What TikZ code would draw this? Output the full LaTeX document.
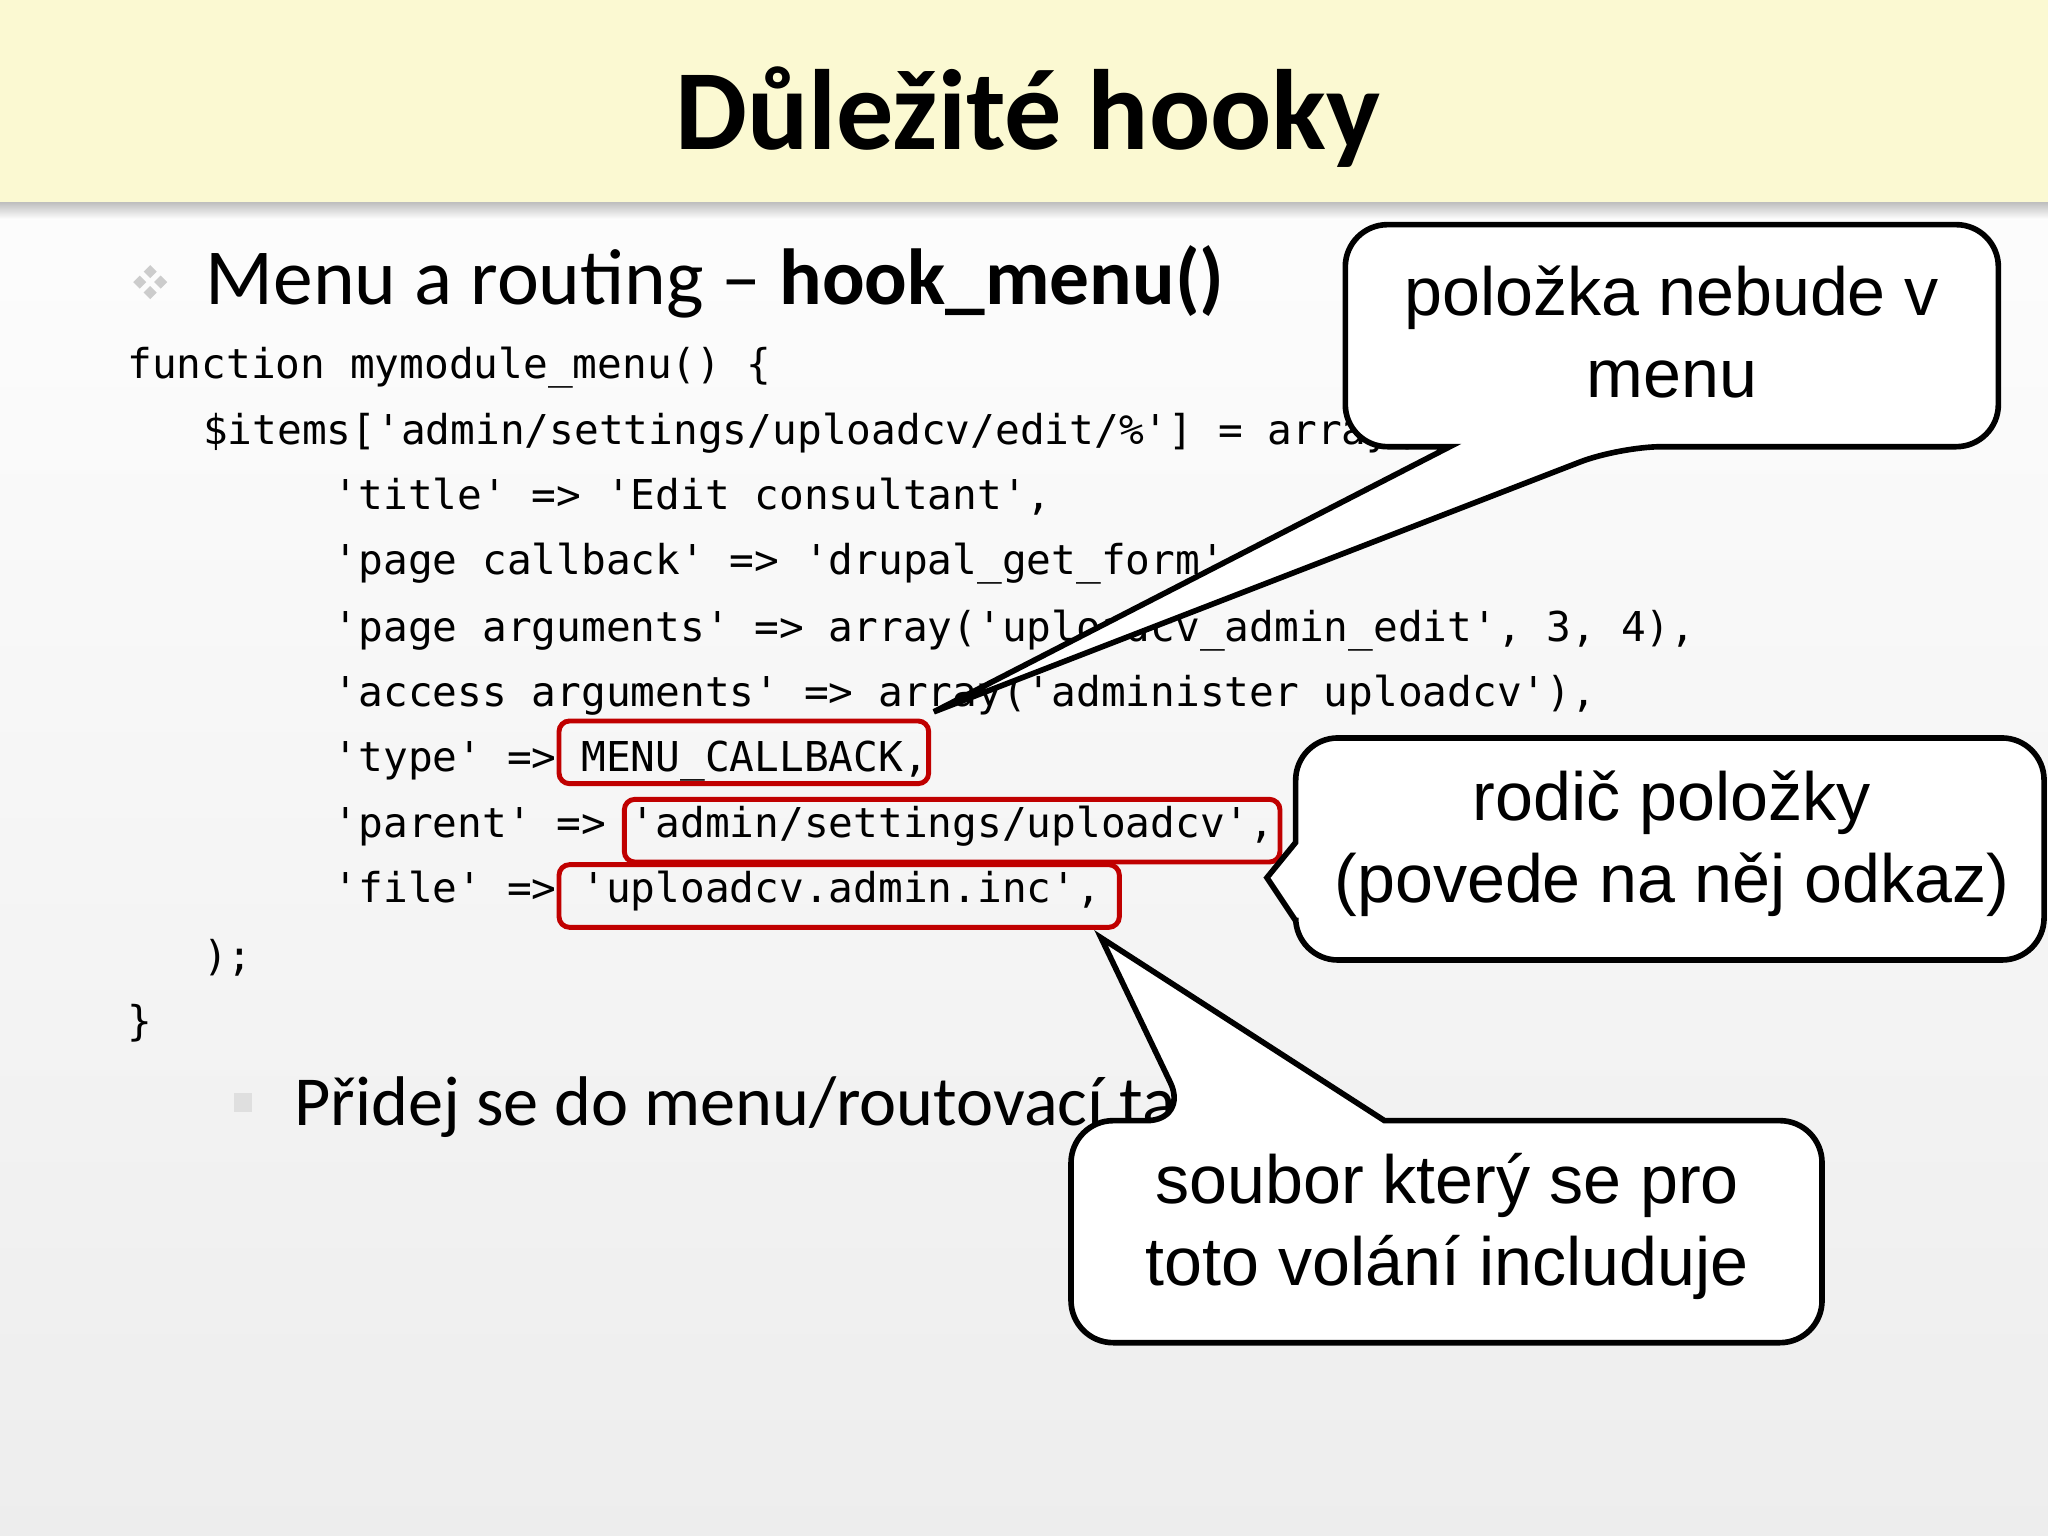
\documentclass[tikz,border=0pt]{standalone}
\usepackage{fontspec}
\setmainfont{Liberation Sans}
\setmonofont{DejaVu Sans Mono}
\newfontfamily\slidefont{Carlito}
\usetikzlibrary{positioning}
\definecolor{titlebg}{HTML}{FBF9D2}
\definecolor{boxred}{HTML}{C00000}
\begin{document}
\begin{tikzpicture}[
    x=0.01306cm, y=-0.01306cm,
    code/.style={anchor=base west, inner sep=0pt, font=\ttfamily\fontsize{11.7}{14}\selectfont},
    redbox/.style={draw=boxred, line width=1.4pt, rounded corners=3pt},
    callout/.style={draw=black, fill=white, line width=1.6pt, rounded corners=12pt},
    bubble/.style={align=center, font=\fontsize{19.4}{23.4}\selectfont},
    bullet/.style={anchor=base west, inner sep=0pt, font=\slidefont\fontsize{22.6}{28}\selectfont}
]
% background
\shade[top color=white, bottom color=gray!14] (0,0) rectangle (1568,1176);
\shade[top color=black!25, bottom color=white] (0,155) rectangle (1568,168);
\fill[titlebg] (0,0) rectangle (1568,155);
\useasboundingbox (0,0) rectangle (1568,1176);

% title
\node[font=\slidefont\bfseries\fontsize{32.5}{38}\selectfont] (title) at (787,90) {Důležité hooky};

% bullet 1
\foreach \dx/\dy in {0/-8, 8/0, 0/8, -8/0}
  \fill[gray!40] (110+\dx,216+\dy) -- ++(5,-5) -- ++(5,5) -- ++(-5,5) -- cycle;
\node[bullet] (menu) at (157,233) {Menu a routing – \textbf{hook\_menu()}};

% code
\node[code] (c1) at (97,290) {function mymodule\_menu() \{};
\node[code] (c2) at (155,340) {\$items['admin/settings/uploadcv/edit/\%'] = array(};
\node[code] (c3) at (255,390) {'title' => 'Edit consultant',};
\node[code] (c4) at (255,440) {'page callback' => 'drupal\_get\_form',};
\node[code] (c5) at (255,491) {'page arguments' => array('uploadcv\_admin\_edit', 3, 4),};
\node[code] (c6) at (255,541) {'access arguments' => array('administer uploadcv'),};
\node[code] (c7) at (255,591) {'type' => MENU\_CALLBACK,};
\node[code] (c8) at (255,641) {'parent' => 'admin/settings/uploadcv',};
\node[code] (c9) at (255,691) {'file' => 'uploadcv.admin.inc',};
\node[code] (c10) at (155,743) {);};
\node[code] (c11) at (97,793) {\}};

% red boxes
\draw[redbox] (428,552) rectangle (711,600);
\draw[redbox] (478,612) rectangle (980,660);
\draw[redbox] (428,662) rectangle (857,710);

% bullet 2
\fill[gray!25] (179,837) rectangle (193,851);
\node[bullet, font=\slidefont\fontsize{20}{24}\selectfont] (add) at (225,862) {Přidej se do menu/routovací tab};

% callouts
\draw[callout] (1030,172) -- (1530,172) -- (1530,342) -- (1240,342)
  [sharp corners] -- (715,545) -- (1110,342) [rounded corners=12pt] -- (1030,342) -- cycle;
\node[bubble] (hidden) at (1280,254) {položka nebude v\\menu};

\draw[callout] (992,565) -- (1565,565) -- (1565,735) -- (992,735)
  [sharp corners] -- (992,705) -- (970,672) -- (992,645) [rounded corners=12pt] -- cycle;
\node[bubble] (parent) at (1280,646) {rodič položky\\(povede na něj odkaz)};

\draw[callout] (820,858) -- (910,858) [sharp corners] -- (843,718) -- (1060,858)
  [rounded corners=12pt] -- (1395,858) -- (1395,1028) -- (820,1028) -- cycle;
\node[bubble] (file) at (1108,939) {soubor který se pro\\toto volání includuje};
\end{tikzpicture}
\end{document}
